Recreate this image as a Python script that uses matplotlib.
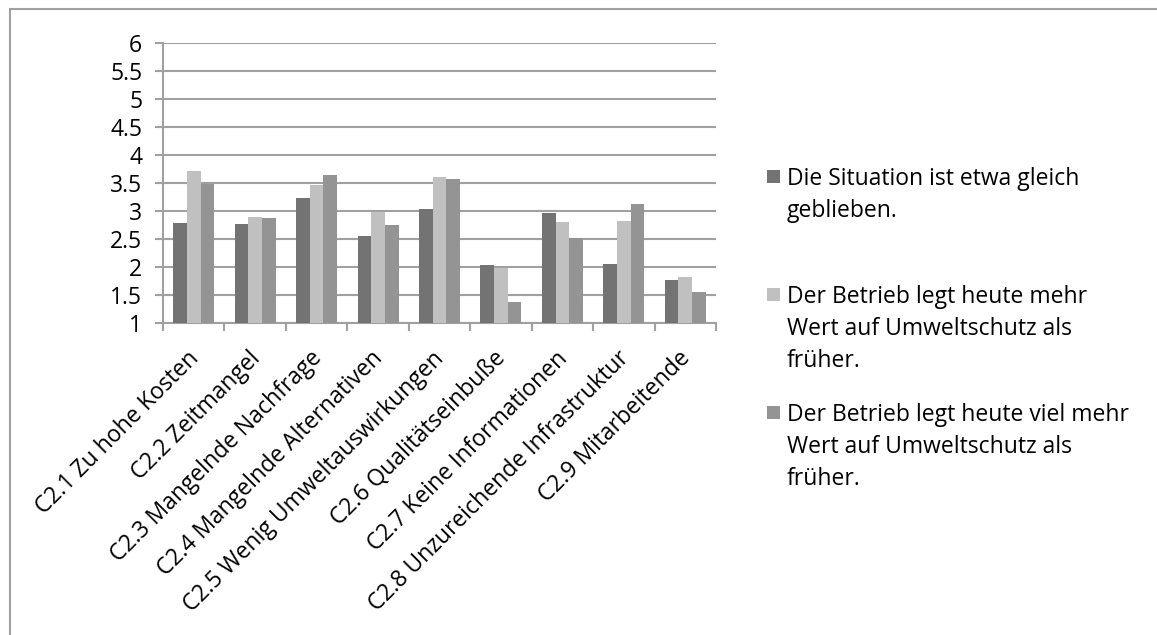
import numpy as np
import matplotlib
matplotlib.use("Agg")
import matplotlib.pyplot as plt
import matplotlib.transforms as mtransforms
from matplotlib.patches import Rectangle

plt.rcParams['font.family'] = ['Open Sans', 'DejaVu Sans']

categories = ["C2.1 Zu hohe Kosten", "C2.2 Zeitmangel", "C2.3 Mangelnde Nachfrage",
              "C2.4 Mangelnde Alternativen", "C2.5 Wenig Umweltauswirkungen",
              "C2.6 Qualitätseinbuße", "C2.7 Keine Informationen",
              "C2.8 Unzureichende Infrastruktur", "C2.9 Mitarbeitende"]
series_names = ["Die Situation ist etwa gleich\ngeblieben.",
                "Der Betrieb legt heute mehr\nWert auf Umweltschutz als\nfrüher.",
                "Der Betrieb legt heute viel mehr\nWert auf Umweltschutz als\nfrüher."]
gleich = [2.79, 2.77, 3.24, 2.56, 3.04, 2.03, 2.96, 2.06, 1.77]
mehr = [3.72, 2.90, 3.46, 2.99, 3.61, 1.99, 2.80, 2.82, 1.83]
viel_mehr = [3.48, 2.88, 3.65, 2.75, 3.58, 1.37, 2.52, 3.13, 1.55]
colors = ["#737373", "#c0c0c0", "#949494"]

W, H = 1157, 635
fs = 16.5
fig = plt.figure(figsize=(W / 100, H / 100), dpi=100)
ax = fig.add_axes([163 / W, 1 - 323 / H, (716 - 163) / W, (323 - 43) / H])

# outer chart frame
fig.patches.append(Rectangle((10 / W, -0.01), 1.1, 1 - 9 / H + 0.01, transform=fig.transFigure,
                             fill=False, edgecolor="#a0a0a0", linewidth=1.5))

x = np.arange(len(categories))
bw = 0.222
for i, (vals, c) in enumerate(zip([gleich, mehr, viel_mehr], colors)):
    ax.bar(x + (i - 1) * bw, np.array(vals) - 1, bottom=1, width=bw, color=c, zorder=3)

ax.set_xlim(-0.5, len(categories) - 0.5)
ax.set_ylim(1, 6)
ax.set_yticks(np.arange(1, 6.01, 0.5))
ax.set_yticklabels(["1", "1.5", "2", "2.5", "3", "3.5", "4", "4.5", "5", "5.5", "6"])
ax.grid(axis="y", color="#a0a0a0", linewidth=1.5, zorder=0)
for s in ["top", "right"]:
    ax.spines[s].set_visible(False)
for s in ["left", "bottom"]:
    ax.spines[s].set_color("#a0a0a0")
    ax.spines[s].set_linewidth(1.5)
ax.tick_params(axis="y", length=6, width=1.5, color="#a0a0a0", pad=9, labelsize=fs)

ax.set_xticks(x)
ax.set_xticklabels(categories, rotation=45, ha="right", va="top", rotation_mode="anchor", fontsize=fs)
ax.tick_params(axis="x", which="major", length=0, pad=17)
shift = mtransforms.ScaledTranslation(-0.07, 0, fig.dpi_scale_trans)
for lab in ax.get_xticklabels():
    lab.set_transform(lab.get_transform() + shift)
ax.set_xticks(np.arange(-0.5, len(categories)), minor=True)
ax.tick_params(axis="x", which="minor", length=6, width=1.5, color="#a0a0a0")

# legend
entry_mid = [177, 295, 413]
for name, c, ym in zip(series_names, colors, entry_mid):
    fig.patches.append(Rectangle((767 / W, 1 - (ym + 6) / H), 13 / W, 13 / H,
                                 transform=fig.transFigure, facecolor=c, edgecolor="none"))
    fig.text(787 / W, 1 - (ym - 10) / H, name, fontsize=fs, va="top", ha="left", linespacing=1.45)

fig.savefig("out.png", dpi=100)
